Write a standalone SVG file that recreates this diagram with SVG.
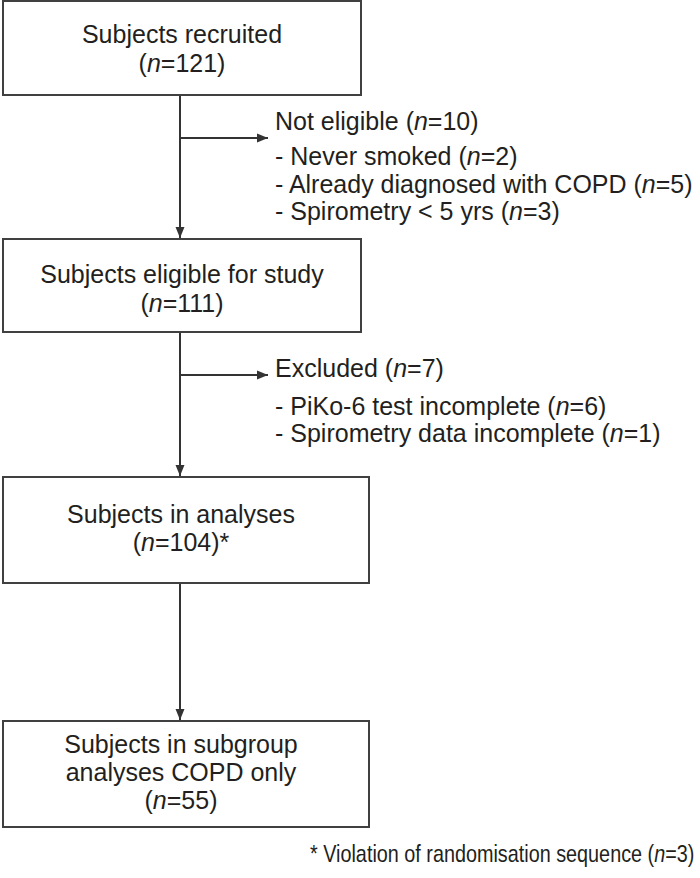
<svg xmlns="http://www.w3.org/2000/svg" width="700" height="878" viewBox="0 0 700 878">
<style>
.box{fill:#fff;stroke:#404040;stroke-width:2}
.t{font-family:"Liberation Sans",Arial,sans-serif;font-size:25px;fill:#231f20}
.c{text-anchor:middle}
.i{font-style:italic}
.ln{stroke:#333;stroke-width:2;fill:none}
</style>
<defs>
<marker id="ah" viewBox="0 0 11 10" refX="11" refY="5" markerWidth="11" markerHeight="10" markerUnits="userSpaceOnUse" orient="auto">
<path d="M0,0.5 L11,5 L0,9.5 z" fill="#333"/>
</marker>
</defs>
<rect width="700" height="878" fill="#fff"/>
<g id="connectors">
<line class="ln" x1="180" y1="95" x2="180" y2="238" marker-end="url(#ah)"/>
<line class="ln" x1="180" y1="138" x2="268" y2="138" marker-end="url(#ah)"/>
<line class="ln" x1="180" y1="332" x2="180" y2="476" marker-end="url(#ah)"/>
<line class="ln" x1="180" y1="375" x2="268" y2="375" marker-end="url(#ah)"/>
<line class="ln" x1="180" y1="583" x2="180" y2="720" marker-end="url(#ah)"/>
</g>
<g id="recruited">
<rect class="box" x="3" y="1" width="358" height="94"/>
<text class="t c" x="182" y="43">Subjects recruited</text>
<text class="t c" x="182" y="72">(<tspan class="i">n</tspan>=121)</text>
</g>
<g id="noteligible">
<text class="t" x="275" y="130">Not eligible (<tspan class="i">n</tspan>=10)</text>
<text class="t" x="275" y="165">- Never smoked (<tspan class="i">n</tspan>=2)</text>
<text class="t" x="275" y="193">- Already diagnosed with COPD (<tspan class="i">n</tspan>=5)</text>
<text class="t" x="275" y="220">- Spirometry &lt; 5 yrs (<tspan class="i">n</tspan>=3)</text>
</g>
<g id="eligible">
<rect class="box" x="3" y="239" width="358" height="93"/>
<text class="t c" x="182" y="283">Subjects eligible for study</text>
<text class="t c" x="182" y="312">(<tspan class="i">n</tspan>=111)</text>
</g>
<g id="excluded">
<text class="t" x="275" y="377">Excluded (<tspan class="i">n</tspan>=7)</text>
<text class="t" x="275" y="415">- PiKo-6 test incomplete (<tspan class="i">n</tspan>=6)</text>
<text class="t" x="275" y="442">- Spirometry data incomplete (<tspan class="i">n</tspan>=1)</text>
</g>
<g id="analyses">
<rect class="box" x="3" y="477" width="366" height="106"/>
<text class="t c" x="181" y="523">Subjects in analyses</text>
<text class="t c" x="181" y="551">(<tspan class="i">n</tspan>=104)*</text>
</g>
<g id="subgroup">
<rect class="box" x="3" y="721" width="366" height="106"/>
<text class="t c" x="181" y="753">Subjects in subgroup</text>
<text class="t c" x="181" y="781">analyses COPD only</text>
<text class="t c" x="181" y="809">(<tspan class="i">n</tspan>=55)</text>
</g>
<g id="footnote">
<text class="t" transform="translate(310,862) scale(0.825,1)" x="0" y="0" style="font-size:24px">* Violation of randomisation sequence (<tspan class="i">n</tspan>=3)</text>
</g>
</svg>
